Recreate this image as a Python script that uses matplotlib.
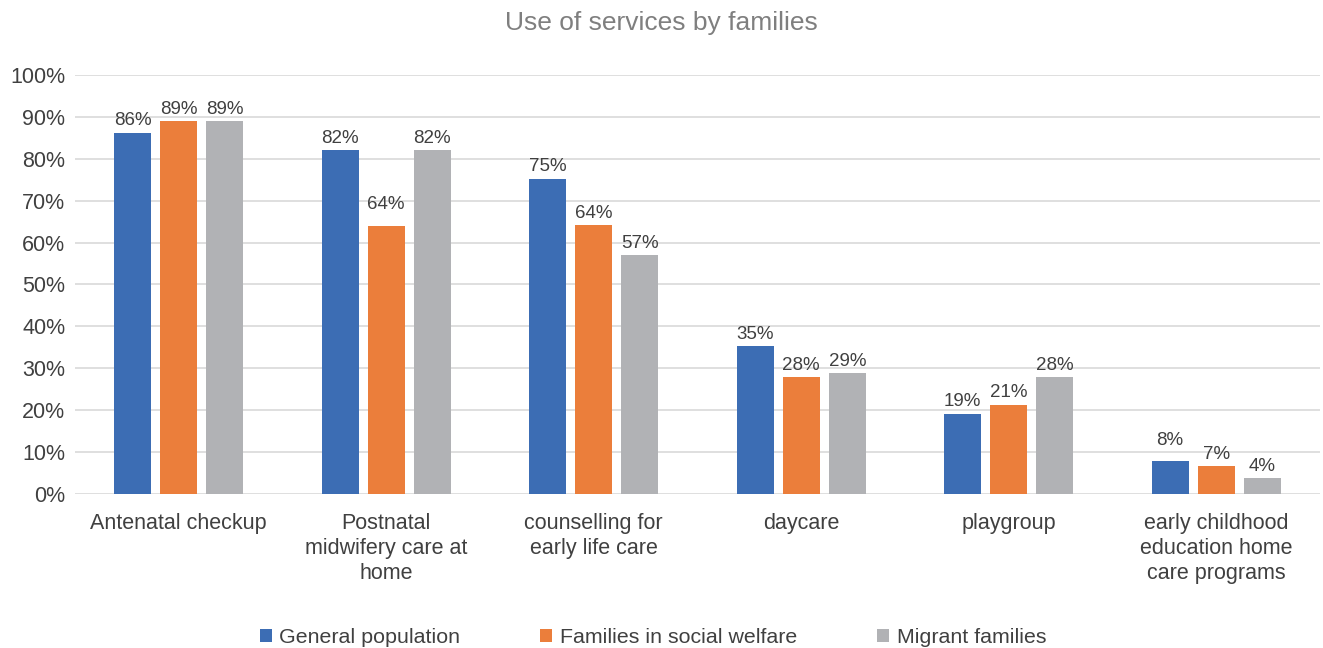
import matplotlib
matplotlib.use("Agg")
import matplotlib.pyplot as plt
import numpy as np
from matplotlib.patches import Patch

plt.rcParams['font.family'] = ['Liberation Sans', 'DejaVu Sans']

categories = ["Antenatal checkup", "Postnatal\nmidwifery care at\nhome",
              "counselling for\nearly life care", "daycare", "playgroup",
              "early childhood\neducation home\ncare programs"]
series_names = ["General population", "Families in social welfare", "Migrant families"]
general = [86.2, 82.1, 75.2, 35.3, 19.1, 7.8]
welfare = [89.0, 64.0, 64.2, 27.8, 21.3, 6.6]
migrant = [89.0, 82.1, 57.0, 28.8, 27.8, 3.7]

colors = ["#3C6DB4", "#EB7E3B", "#B1B2B5"]
text_color = "#404040"

# labels that sit higher than the rest in the original (series, category) -> extra points
label_nudge = {(1, 1): 7, (0, 5): 6}

fig = plt.figure(figsize=(13.23, 6.48), dpi=100)
ax = fig.add_axes([0.0567, 0.2377, 0.941, 0.6466])

x = np.arange(len(categories))
width = 0.178
step = 0.222
for i, (vals, col) in enumerate(zip([general, welfare, migrant], colors)):
    bars = ax.bar(x + (i - 1) * step, vals, width, color=col, zorder=2)
    for j, b in enumerate(bars):
        v = vals[j]
        ax.annotate(f"{round(v)}%", (b.get_x() + b.get_width() / 2, v),
                    xytext=(0, 2.5 + label_nudge.get((i, j), 0)), textcoords="offset points",
                    ha="center", va="bottom", fontsize=13.5, color=text_color)

ax.set_xlim(-0.5, len(categories) - 0.5)
ax.set_ylim(0, 100)
ax.set_yticks(range(0, 101, 10))
ax.set_yticklabels([f"{t}%" for t in range(0, 101, 10)])
ax.set_xticks(x)
ax.set_xticklabels(categories, linespacing=1.27)
ax.tick_params(axis="both", length=0, colors=text_color, labelsize=15.5)
ax.tick_params(axis="x", pad=13.5)
ax.tick_params(axis="y", pad=7)
ax.grid(axis="y", color="#D9D9D9", linewidth=1.2, zorder=0)
for s in ax.spines.values():
    s.set_visible(False)

fig.text(0.5, 0.965, "Use of services by families", ha="center", va="center",
         fontsize=19, color="#7F7F7F")

handles = [Patch(facecolor=c, label=n) for c, n in zip(colors, series_names)]
fig.legend(handles=handles, loc="center", bbox_to_anchor=(0.4935, 0.016), ncol=3,
           frameon=False, fontsize=15.4, handlelength=0.56, handleheight=0.56,
           handletextpad=0.35, columnspacing=3.75, labelcolor=text_color)

fig.savefig("out.png", dpi=100)
